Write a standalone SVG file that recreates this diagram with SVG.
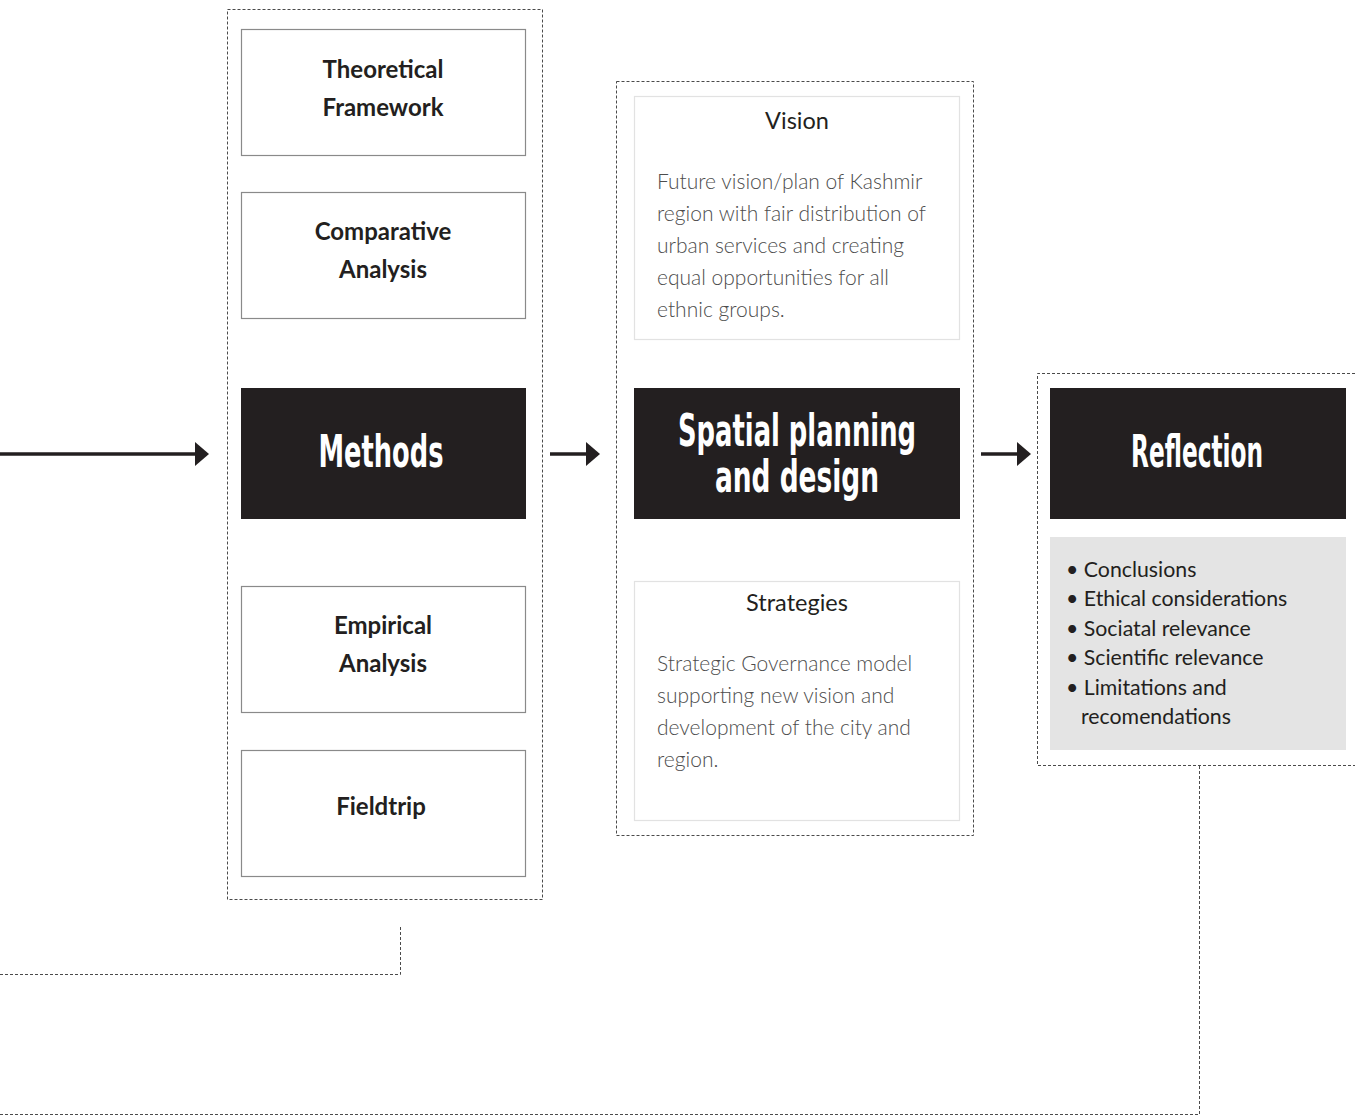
<svg xmlns="http://www.w3.org/2000/svg" width="1355" height="1116" viewBox="0 0 1355 1116">
  <defs>
    <style>
      .frame { fill: none; stroke: #4a4a4a; stroke-width: 1; stroke-dasharray: 3 2; }
      .link { fill: none; stroke: #4a4a4a; stroke-width: 1; stroke-dasharray: 3 2; }
      .box { fill: #ffffff; stroke: #8a8a8a; stroke-width: 1.2; }
      .card { fill: #ffffff; stroke: #e2e2e2; stroke-width: 1.2; }
      .dark { fill: #231f20; }
      .note { fill: #e4e4e4; }
      .label { font-family: Lato, "Open Sans", "Liberation Sans", sans-serif; font-weight: 700; font-size: 24px; fill: #231f20; text-anchor: middle; }
      .head { font-family: Lato, "Open Sans", "Liberation Sans", sans-serif; font-weight: 400; font-size: 23.5px; fill: #231f20; text-anchor: middle; }
      .body { font-family: Lato, "Open Sans", "Liberation Sans", sans-serif; font-weight: 300; font-size: 21px; fill: #4d4d4d; }
      .list { font-family: Lato, "Open Sans", "Liberation Sans", sans-serif; font-weight: 400; font-size: 21.3px; fill: #231f20; }
      .title { font-family: "DejaVu Sans Condensed", "DejaVu Sans", sans-serif; font-weight: 700; font-size: 45px; fill: #ffffff; text-anchor: middle; }
      .arrow { stroke: #231f20; stroke-width: 3.5; fill: none; }
      .head-tip { fill: #231f20; }
    </style>
  </defs>

  <!-- column frames -->
  <rect class="frame" x="227.5" y="9.5" width="315" height="890"/>
  <rect class="frame" x="616.5" y="81.5" width="357" height="754"/>
  <path class="frame" d="M1360 373.5 H1037.5 V765.5 H1360"/>

  <!-- connectors -->
  <g id="connectors">
    <line class="arrow" x1="0" y1="454" x2="197" y2="454"/>
    <polygon class="head-tip" points="195,442 209,454 195,466"/>
    <line class="arrow" x1="550" y1="454" x2="588" y2="454"/>
    <polygon class="head-tip" points="586,442 600,454 586,466"/>
    <line class="arrow" x1="981" y1="454" x2="1019" y2="454"/>
    <polygon class="head-tip" points="1017,442 1031,454 1017,466"/>
    <path class="link" d="M400.5 927 V974.5 H0"/>
    <path class="link" d="M1199.5 766 V1114.5 H0"/>
  </g>

  <!-- Methods column -->
  <g id="theoretical-framework">
    <rect class="box" x="241.5" y="29.5" width="284" height="126"/>
    <text class="label" x="383" y="78">Theoretical</text>
    <text class="label" x="383" y="116">Framework</text>
  </g>
  <g id="comparative-analysis">
    <rect class="box" x="241.5" y="192.5" width="284" height="126"/>
    <text class="label" x="383" y="240">Comparative</text>
    <text class="label" x="383" y="278">Analysis</text>
  </g>
  <g id="methods">
    <rect class="dark" x="241" y="388" width="285" height="131"/>
    <text class="title" x="381" y="467" textLength="125" lengthAdjust="spacingAndGlyphs">Methods</text>
  </g>
  <g id="empirical-analysis">
    <rect class="box" x="241.5" y="586.5" width="284" height="126"/>
    <text class="label" x="383" y="634">Empirical</text>
    <text class="label" x="383" y="672">Analysis</text>
  </g>
  <g id="fieldtrip">
    <rect class="box" x="241.5" y="750.5" width="284" height="126"/>
    <text class="label" x="381" y="815">Fieldtrip</text>
  </g>

  <!-- Spatial planning column -->
  <g id="vision">
    <rect class="card" x="634.5" y="96.5" width="325" height="243"/>
    <text class="head" x="797" y="129">Vision</text>
    <text class="body" x="657" y="189">Future vision/plan of Kashmir</text>
    <text class="body" x="657" y="221">region with fair distribution of</text>
    <text class="body" x="657" y="253">urban services and creating</text>
    <text class="body" x="657" y="285">equal opportunities for all</text>
    <text class="body" x="657" y="317">ethnic groups.</text>
  </g>
  <g id="spatial-planning">
    <rect class="dark" x="634" y="388" width="326" height="131"/>
    <text class="title" x="797" y="446" textLength="238" lengthAdjust="spacingAndGlyphs">Spatial planning</text>
    <text class="title" x="797" y="492" textLength="164" lengthAdjust="spacingAndGlyphs">and design</text>
  </g>
  <g id="strategies">
    <rect class="card" x="634.5" y="581.5" width="325" height="239"/>
    <text class="head" x="797" y="611">Strategies</text>
    <text class="body" x="657" y="671">Strategic Governance model</text>
    <text class="body" x="657" y="703">supporting new vision and</text>
    <text class="body" x="657" y="735">development of the city and</text>
    <text class="body" x="657" y="767">region.</text>
  </g>

  <!-- Reflection column -->
  <g id="reflection">
    <rect class="dark" x="1050" y="388" width="296" height="131"/>
    <text class="title" x="1197" y="467" textLength="132" lengthAdjust="spacingAndGlyphs">Reflection</text>
  </g>
  <g id="reflection-points">
    <rect class="note" x="1050" y="537" width="296" height="213"/>
    <text class="list" x="1066" y="577">• Conclusions</text>
    <text class="list" x="1066" y="606">• Ethical considerations</text>
    <text class="list" x="1066" y="636">• Sociatal relevance</text>
    <text class="list" x="1066" y="665">• Scientific relevance</text>
    <text class="list" x="1066" y="695">• Limitations and</text>
    <text class="list" x="1081" y="724">recomendations</text>
  </g>
</svg>
